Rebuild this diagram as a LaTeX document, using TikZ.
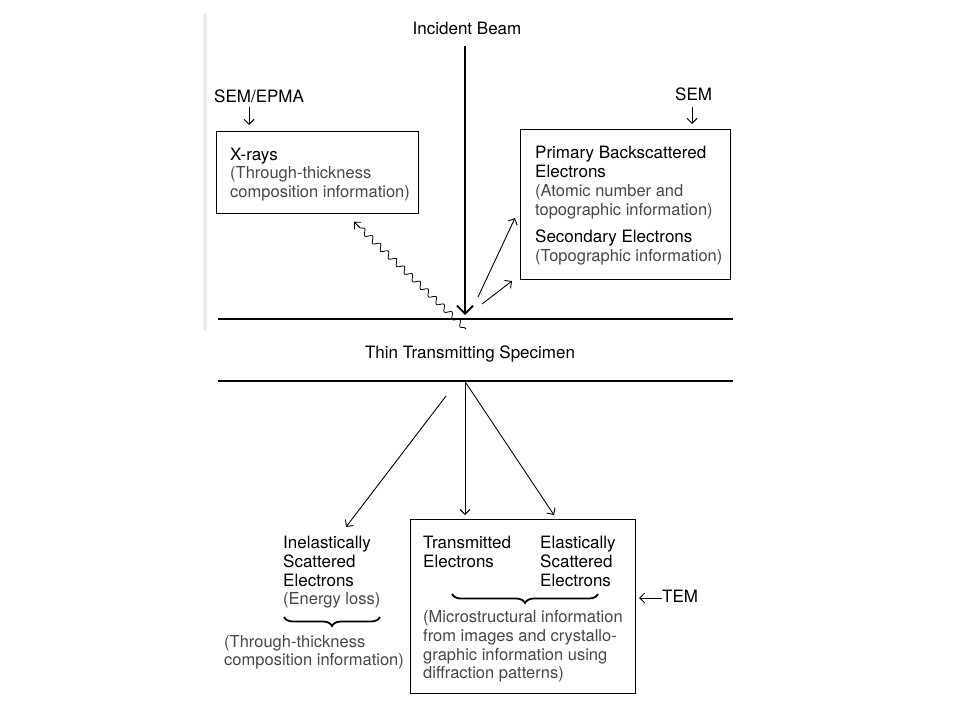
\documentclass[tikz,border=0pt]{standalone}
\usepackage{fontspec}
\setmainfont{TeX Gyre Heros}
\usetikzlibrary{arrows.meta,decorations.pathreplacing,decorations.pathmorphing,calc}
\begin{document}
\begin{tikzpicture}[x=1pt,y=-1pt,
  txt/.style={font=\fontsize{17}{20}\selectfont, inner sep=0pt, text height=12pt, text depth=3.5pt, anchor=west},
  sub/.style={txt, font=\fontsize{16.5}{20}\selectfont, text=black!72},
  box/.style={draw, line width=1.2pt, inner sep=0pt, anchor=north west},
  arr/.style={line width=0.9pt, -{Straight Barb[length=5pt,width=10pt,line width=0.9pt]}},
  beam/.style={line width=1.1pt, -{Straight Barb[length=8pt,width=16pt,line width=1.8pt]}},
  spec/.style={line width=1.3pt},
  wavy/.style={line width=0.8pt, decorate, decoration={snake, amplitude=2.8pt, segment length=11pt, pre length=2pt, post length=5pt}},
  bracestyle/.style={line width=1.8pt, decorate, decoration={brace, mirror, amplitude=9pt, aspect=0.5}},
]
\useasboundingbox (0,0) rectangle (960,720);
\fill[white] (0,0) rectangle (960,720);
\fill[black!7] (203,14) rectangle (207,330);

% incident beam
\node (inc) [txt, anchor=center] at (467,30) {Incident Beam};
\coordinate (beamtop) at (465,46);
\coordinate (hit) at (465,315);
\draw[beam] (beamtop) -- (hit);

% specimen
\coordinate (tl1) at (218,319); \coordinate (tl2) at (733,319);
\coordinate (bl1) at (218,381); \coordinate (bl2) at (733,381);
\draw[spec] (tl1) -- (tl2);
\draw[spec] (bl1) -- (bl2);
\node (spectxt) [txt, anchor=center] at (470,354) {Thin Transmitting Specimen};

% X-ray box
\node (semepma) [txt] at (214,98) {SEM/EPMA};
\coordinate (a1s) at (249,107); \coordinate (a1e) at (249,125);
\draw[arr] (a1s) -- (a1e);
\node (xbox) [box, minimum width=202pt, minimum height=82pt] at (216,131) {};
\node (x1) [txt] at (230,156) {X-rays};
\node (x2) [sub] at (230,174) {(Through-thickness};
\node (x3) [sub] at (230,193) {composition information)};

% wavy X-rays
\coordinate (ws) at (466,329);
\coordinate (we) at (354,222);
\draw[wavy] (ws) -- (we);
\draw[line width=0.8pt, -{Straight Barb[length=5pt,width=10pt,line width=0.8pt]}] ($(ws)!0.95!(we)$) -- (we);

% SEM box
\node (sem) [txt] at (675,96) {SEM};
\coordinate (a2s) at (692,107); \coordinate (a2e) at (692,124);
\draw[arr] (a2s) -- (a2e);
\node (sbox) [box, minimum width=210pt, minimum height=150pt] at (520,129) {};
\node (s1) [txt] at (535,154) {Primary Backscattered};
\node (s2) [txt] at (535,173) {Electrons};
\node (s3) [sub] at (535,192) {(Atomic number and};
\node (s4) [sub] at (535,211) {topographic information)};
\node (s5) [txt] at (535,238) {Secondary Electrons};
\node (s6) [sub] at (535,257) {(Topographic information)};

% backscatter arrows
\coordinate (b1s) at (478,297); \coordinate (b1e) at (515,218);
\coordinate (b2s) at (482,304); \coordinate (b2e) at (512,281);
\draw[arr] (b1s) -- (b1e);
\draw[arr] (b2s) -- (b2e);

% transmitted arrows
\coordinate (t1s) at (446,396); \coordinate (t1e) at (346,527);
\coordinate (t2s) at (465,382); \coordinate (t2e) at (465,515);
\coordinate (t3s) at (466,383); \coordinate (t3e) at (554,515);
\draw[arr] (t1s) -- (t1e);
\draw[arr] (t2s) -- (t2e);
\draw[arr] (t3s) -- (t3e);

% inelastic
\node (i1) [txt] at (283,544) {Inelastically};
\node (i2) [txt] at (283,563) {Scattered};
\node (i3) [txt] at (283,582) {Electrons};
\node (i4) [sub] at (283,600) {(Energy loss)};
\coordinate (br1a) at (284,617); \coordinate (br1b) at (380,617);
\draw[bracestyle] (br1a) -- (br1b);
\node (i5) [sub] at (224,643) {(Through-thickness};
\node (i6) [sub] at (224,661) {composition information)};

% TEM box
\node (tbox) [box, minimum width=225pt, minimum height=174pt] at (410,519) {};
\node (e1) [txt] at (423,544) {Transmitted};
\node (e2) [txt] at (423,563) {Electrons};
\node (e3) [txt] at (540,544) {Elastically};
\node (e4) [txt] at (540,563) {Scattered};
\node (e5) [txt] at (540,582) {Electrons};
\coordinate (br2a) at (452,594); \coordinate (br2b) at (598,594);
\draw[bracestyle] (br2a) -- (br2b);
\node (m1) [sub] at (423,618) {(Microstructural information};
\node (m2) [sub] at (423,637) {from images and crystallo-};
\node (m3) [sub] at (423,656) {graphic information using};
\node (m4) [sub] at (423,674) {diffraction patterns)};

\node (tem) [txt] at (662,598) {TEM};
\coordinate (temtip) at (639,598);
\draw[arr] (tem.west) -- (temtip);
\end{tikzpicture}
\end{document}
